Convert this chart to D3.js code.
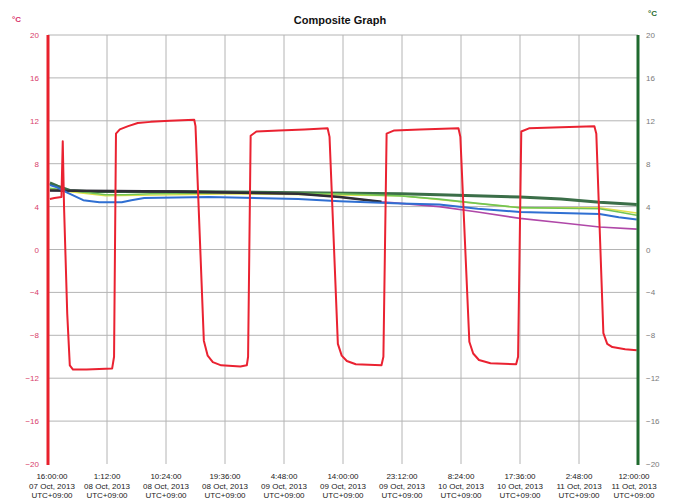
<!DOCTYPE html>
<html><head><meta charset="utf-8">
<script src="https://cdn.jsdelivr.net/npm/d3@7"></script>
<style>body{margin:0;background:#fff}svg{display:block;font-family:"Liberation Sans",Arial,sans-serif}</style>
</head><body><svg id="c" width="673" height="504"></svg>
<script>
// Hours from 07 Oct 2013 16:00 (UTC+09:00)
const xTickTimes = ["16:00:00","1:12:00","10:24:00","19:36:00","4:48:00","14:00:00","23:12:00","8:24:00","17:36:00","2:48:00","12:00:00"];
const xTickDates = ["07 Oct, 2013","08 Oct, 2013","08 Oct, 2013","08 Oct, 2013","09 Oct, 2013","09 Oct, 2013","09 Oct, 2013","10 Oct, 2013","10 Oct, 2013","11 Oct, 2013","11 Oct, 2013"];
const xTickHours = [0,9.2,18.4,27.6,36.8,46,55.2,64.4,73.6,82.8,92];
const yTicks = [-20,-16,-12,-8,-4,0,4,8,12,16,20];

const redSeries = [[0.3,4.7],[1.0,4.8],[2.1,4.9],[2.3,10.1],[2.5,4],[3.0,-6],[3.4,-10.8],[3.9,-11.2],[6,-11.2],[10.0,-11.1],[10.3,-10],[10.6,10.8],[11.2,11.2],[12.5,11.5],[14,11.8],[16,11.9],[19,12.0],[22.8,12.1],[23.0,11.5],[24.3,-8.5],[24.9,-9.9],[25.7,-10.5],[27,-10.8],[30,-10.9],[31.0,-10.8],[31.2,-10],[31.6,10.6],[32.5,11.0],[36,11.1],[40,11.2],[43.6,11.3],[43.9,10.5],[45.2,-8.8],[45.8,-9.9],[46.6,-10.4],[48,-10.7],[52,-10.8],[52.3,-10],[52.8,10.8],[54,11.1],[58,11.2],[64.0,11.3],[64.3,10.5],[65.7,-8.6],[66.3,-9.7],[67.2,-10.3],[69,-10.6],[73.0,-10.7],[73.3,-10],[73.8,11.0],[75,11.3],[80,11.4],[85.2,11.5],[85.5,10.8],[86.6,-7.8],[87.2,-8.8],[88,-9.1],[90,-9.3],[91.8,-9.4]];
const yellowSeries = [[0.3,5.6],[9,5.0],[30,5.2],[55,5.0],[73.6,3.9],[86,3.9],[91.8,3.4]];
const lightGreenSeries = [[0.3,5.7],[2,5.6],[5,5.4],[9,5.1],[12,5.1],[16,5.2],[30,5.3],[45,5.2],[55,5.0],[61,4.7],[67,4.3],[73.6,3.9],[86,3.8],[89,3.5],[91.8,3.2]];
const darkGreenSeries = [[0.3,6.2],[1.5,5.9],[3.4,5.5],[6,5.4],[20,5.4],[39,5.3],[55,5.2],[61,5.1],[73.6,4.9],[80,4.7],[86,4.4],[91.8,4.2]];
const purpleSeries = [[0.3,5.5],[20,5.4],[39,5.2],[45.5,4.9],[52,4.45],[55,4.3],[61,4.0],[67,3.5],[73.6,2.9],[80,2.5],[86,2.1],[91.8,1.9]];
const blackSeries = [[0.3,5.5],[20,5.4],[39,5.2],[45.5,4.9],[52,4.45]];
const blueSeries = [[0.3,6.0],[1.4,5.8],[3,5.3],[5.5,4.6],[8,4.4],[11.5,4.4],[13,4.6],[15,4.8],[25,4.9],[39,4.7],[45.5,4.5],[55,4.3],[61,4.2],[67,3.8],[73.6,3.5],[86,3.3],[89,3.0],[91.8,2.8]];

const svg = d3.select("#c");
const L = 48, R = 638, T = 35, B = 464;
const x = d3.scaleLinear().domain([0,92]).range([L,R]);
const yL = d3.scaleLinear().domain([-20,20]).range([B,T]);
const yR = d3.scaleLinear().domain([-20,20]).range([B,T]);

// grid
const g = svg.append("g");
g.selectAll(".hg").data(yTicks.filter(v=>v>-20)).enter().append("line")
  .attr("x1",L).attr("x2",R).attr("y1",d=>yL(d)).attr("y2",d=>yL(d))
  .attr("stroke","#b4b4b4").attr("stroke-width",1);
g.selectAll(".vg").data(xTickHours.slice(1,-1)).enter().append("line")
  .attr("x1",d=>x(d)).attr("x2",d=>x(d)).attr("y1",T).attr("y2",B)
  .attr("stroke","#b4b4b4").attr("stroke-width",1);

// axes
const axL = d3.axisLeft(yL).tickValues(yTicks).tickSize(0).tickPadding(9);
const gl = svg.append("g").attr("transform",`translate(${L},0)`).call(axL);
gl.select(".domain").remove();
gl.selectAll("text").attr("fill","#d8406a").attr("font-size",8).attr("font-family","Liberation Sans, Arial, sans-serif");
const axR = d3.axisRight(yR).tickValues(yTicks).tickSize(0).tickPadding(8);
const gr = svg.append("g").attr("transform",`translate(${R},0)`).call(axR);
gr.select(".domain").remove();
gr.selectAll("text").attr("fill","#7a7a7a").attr("font-size",8).attr("font-family","Liberation Sans, Arial, sans-serif");

const xl = svg.append("g");
xTickHours.forEach((h,i)=>{
  const cx = x(h)+(i===0?4:(i===10?-4:0));
  const t = xl.append("text").attr("x",cx).attr("text-anchor","middle")
    .attr("font-size",8).attr("fill","#222");
  t.append("tspan").attr("x",cx).attr("y",479).text(xTickTimes[i]);
  t.append("tspan").attr("x",cx).attr("y",489).text(xTickDates[i]);
  t.append("tspan").attr("x",cx).attr("y",498).text("UTC+09:00");
});

// lines
const lineL = d3.line().x(d=>x(d[0])).y(d=>yL(d[1]));
const lineR = d3.line().x(d=>x(d[0])).y(d=>yR(d[1]));
const draw = (data, gen, color, w) => svg.append("path").datum(data).attr("d",gen)
  .attr("fill","none").attr("stroke",color).attr("stroke-width",w).attr("stroke-linejoin","round");
draw(darkGreenSeries, lineR, "#3b6e48", 3);
draw(yellowSeries, lineR, "#e2e04a", 1.5);
draw(lightGreenSeries, lineR, "#72c454", 1.6);
draw(purpleSeries, lineR, "#b048a8", 1.6);
draw(blackSeries, lineR, "#2e2e36", 2.6);
draw(blueSeries, lineR, "#2f6fd2", 2);
draw(redSeries, lineL, "#ea2231", 2);

// axis lines
svg.append("line").attr("x1",L).attr("x2",L).attr("y1",T).attr("y2",B+1).attr("stroke","#e8202c").attr("stroke-width",3);
svg.append("line").attr("x1",R).attr("x2",R).attr("y1",T).attr("y2",B+1).attr("stroke","#1f6a2e").attr("stroke-width",3);

// titles
svg.append("text").attr("x",340).attr("y",24).attr("text-anchor","middle").attr("font-size",11).attr("font-weight","bold").attr("fill","#111").text("Composite Graph");
svg.append("text").attr("x",12).attr("y",22).attr("font-size",8).attr("font-weight","bold").attr("fill","#d8306a").text("°C");
svg.append("text").attr("x",648).attr("y",16).attr("font-size",8).attr("font-weight","bold").attr("fill","#1f6a2e").text("°C");
</script></body></html>
